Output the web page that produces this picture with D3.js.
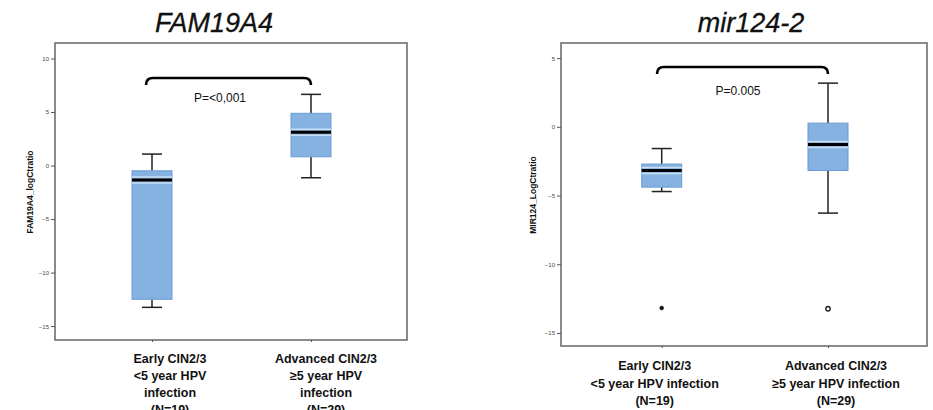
<!DOCTYPE html>
<html><head><meta charset="utf-8">
<script src="https://cdn.jsdelivr.net/npm/d3@7"></script>
<style>body{margin:0;background:#fff}svg{display:block}</style>
</head><body>
<svg id="c" width="933" height="410"></svg>
<script>
// ---- data ----
const categories = ["early", "advanced"];
const labelLinesA = [["Early CIN2/3", "<5 year HPV", "infection", "(N=19)"], ["Advanced CIN2/3", "\u22655 year HPV", "infection", "(N=29)"]];
const labelLinesB = [["Early CIN2/3", "<5 year HPV infection", "(N=19)"], ["Advanced CIN2/3", "\u22655 year HPV infection", "(N=29)"]];
const titles = ["FAM19A4", "mir124-2"];
const yLabels = ["FAM19A4_logCtratio", "MIR124_LogCtratio"];
const pTexts = ["P=<0,001", "P=0.005"];
const ticksA = [10, 5, 0, -5, -10, -15];
const ticksB = [5, 0, -5, -10, -15];
// [min, q1, median, q3, max]
const famEarly = [-13.25, -12.5, -1.36, -0.49, 1.07];
const famAdv = [-1.14, 0.82, 3.1, 4.88, 6.65];
const mirEarly = [-4.71, -4.39, -3.18, -2.71, -1.58];
const mirAdv = [-6.28, -3.18, -1.29, 0.27, 3.18];
const famOutliers = [[], []];
const mirOutliers = [[-13.19], [-13.24]];
const outlierStyle = ["filled", "open"];

const svg = d3.select("#c");

function panel(cfg) {
  const g = svg.append("g");
  const x = d3.scalePoint().domain(categories).range([cfg.cx0, cfg.cx1]);
  const y = d3.scaleLinear().domain(cfg.ydomain).range([cfg.bottom, cfg.top]);

  // title
  g.append("text").attr("x", cfg.titleX).attr("y", 32).attr("text-anchor", "middle")
    .attr("font-family", "Liberation Sans, Arial, sans-serif").attr("font-style", "italic")
    .attr("font-size", 27).attr("fill", "#111").attr("stroke", "#111").attr("stroke-width", 0.3).text(cfg.title);

  // frame
  g.append("rect").attr("x", cfg.left).attr("y", cfg.top).attr("width", cfg.right - cfg.left)
    .attr("height", cfg.bottom - cfg.top).attr("fill", "none").attr("stroke", "#666").attr("stroke-width", 1.5);

  // y axis
  const ya = d3.axisLeft(y).tickValues(cfg.ticks).tickSize(4).tickPadding(2).tickFormat(d3.format("d"));
  const yg = g.append("g").attr("transform", `translate(${cfg.left},0)`).call(ya);
  yg.select(".domain").remove();
  yg.selectAll("line").attr("stroke", "#555");
  yg.selectAll("text").attr("font-size", 6).attr("font-family", "Liberation Sans, Arial, sans-serif").attr("fill", "#444");

  // x axis ticks
  const xa = d3.axisBottom(x).tickSize(2).tickFormat("");
  const xg = g.append("g").attr("transform", `translate(0,${cfg.bottom})`).call(xa);
  xg.select(".domain").remove();
  xg.selectAll("line").attr("stroke", "#555");

  // y label
  g.append("text").attr("transform", `translate(${cfg.yLabelX},${cfg.yLabelY}) rotate(-90)`)
    .attr("text-anchor", "middle").attr("font-size", 8.5).attr("font-weight", "bold")
    .attr("font-family", "Liberation Sans, Arial, sans-serif").attr("fill", "#111").text(cfg.ylabel);

  // boxes
  const bw = 40, cw = 20;
  cfg.stats.forEach((s, i) => {
    const cx = x(categories[i]);
    const bg = g.append("g");
    bg.append("line").attr("x1", cx).attr("x2", cx).attr("y1", y(s[4])).attr("y2", y(s[3])).attr("stroke", "#222").attr("stroke-width", 1.5);
    bg.append("line").attr("x1", cx).attr("x2", cx).attr("y1", y(s[1])).attr("y2", y(s[0])).attr("stroke", "#222").attr("stroke-width", 1.5);
    bg.append("line").attr("x1", cx - cw / 2).attr("x2", cx + cw / 2).attr("y1", y(s[4])).attr("y2", y(s[4])).attr("stroke", "#222").attr("stroke-width", 1.5);
    bg.append("line").attr("x1", cx - cw / 2).attr("x2", cx + cw / 2).attr("y1", y(s[0])).attr("y2", y(s[0])).attr("stroke", "#222").attr("stroke-width", 1.5);
    bg.append("rect").attr("x", cx - bw / 2).attr("y", y(s[3])).attr("width", bw).attr("height", y(s[1]) - y(s[3]))
      .attr("fill", "#85b2e0").attr("stroke", "#6a9bd2").attr("stroke-width", 1);
    bg.append("line").attr("x1", cx - bw / 2).attr("x2", cx + bw / 2).attr("y1", y(s[2]) - 3).attr("y2", y(s[2]) - 3).attr("stroke", "#c9def3").attr("stroke-width", 1.5);
    bg.append("line").attr("x1", cx - bw / 2).attr("x2", cx + bw / 2).attr("y1", y(s[2]) + 3).attr("y2", y(s[2]) + 3).attr("stroke", "#c9def3").attr("stroke-width", 1.5);
    bg.append("line").attr("x1", cx - bw / 2).attr("x2", cx + bw / 2).attr("y1", y(s[2])).attr("y2", y(s[2])).attr("stroke", "#000").attr("stroke-width", 3);
    cfg.outliers[i].forEach(v => {
      const open = cfg.outStyle[i] === "open";
      bg.append("circle").attr("cx", cx).attr("cy", y(v)).attr("r", open ? 2.2 : 2)
        .attr("fill", open ? "#fff" : "#111").attr("stroke", "#222").attr("stroke-width", open ? 1.4 : 0.5);
    });
  });

  // bracket
  const bx0 = cfg.brX0, bx1 = x(categories[1]), by = cfg.brY, r = 7;
  g.append("path").attr("d", `M${bx0},${by + r} Q${bx0},${by} ${bx0 + r},${by} L${bx1 - r},${by} Q${bx1},${by} ${bx1},${by + r}`)
    .attr("fill", "none").attr("stroke", "#000").attr("stroke-width", 2.6);
  g.append("text").attr("x", cfg.pX).attr("y", cfg.pY).attr("text-anchor", "middle")
    .attr("font-size", 12).attr("font-family", "Liberation Sans, Arial, sans-serif").attr("fill", "#111").text(cfg.p);

  // category labels
  cfg.labels.forEach((lines, i) => {
    const t = g.append("text").attr("text-anchor", "middle").attr("font-size", 12.5).attr("font-weight", "bold")
      .attr("font-family", "Liberation Sans, Arial, sans-serif").attr("fill", "#111");
    lines.forEach((ln, k) => {
      t.append("tspan").attr("x", x(categories[i]) + cfg.labelDx[i]).attr("y", cfg.labelY0 + k * cfg.labelDy).text(ln);
    });
  });
}

panel({
  left: 55, right: 407, top: 43, bottom: 340, cx0: 152, cx1: 311,
  ydomain: [-16.3, 11.45], ticks: ticksA, stats: [famEarly, famAdv], outliers: famOutliers, outStyle: outlierStyle,
  title: titles[0], titleX: 214, ylabel: yLabels[0], yLabelX: 33, yLabelY: 192,
  brX0: 146, brY: 78, p: pTexts[0], pX: 220, pY: 102,
  labels: labelLinesA, labelDx: [18, 15], labelY0: 363, labelDy: 17
});
panel({
  left: 561, right: 927, top: 43, bottom: 346, cx0: 661.7, cx1: 828,
  ydomain: [-15.95, 6.1], ticks: ticksB, stats: [mirEarly, mirAdv], outliers: mirOutliers, outStyle: outlierStyle,
  title: titles[1], titleX: 751, ylabel: yLabels[1], yLabelX: 536, yLabelY: 195,
  brX0: 657, brY: 67, p: pTexts[1], pX: 738, pY: 95,
  labels: labelLinesB, labelDx: [-7, 8], labelY0: 370, labelDy: 17.5
});
</script>
</body></html>
